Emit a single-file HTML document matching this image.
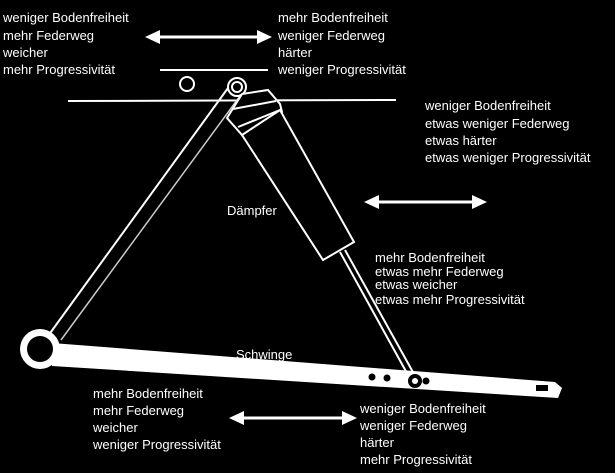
<!DOCTYPE html><html><head><style>body{margin:0;background:#000}svg{display:block}text{font-family:"Liberation Sans",sans-serif;font-size:13px;fill:#fff}</style></head><body>
<svg width="615" height="473" viewBox="0 0 615 473">
<rect x="0" y="0" width="615" height="473" fill="#000"/>
<g stroke="#fff" fill="none" stroke-width="2">
<line x1="160" y1="70" x2="268" y2="70"/>
<line x1="68" y1="101" x2="396" y2="100"/>
<circle cx="187" cy="84" r="7"/>
<line x1="48" y1="336" x2="228" y2="88"/>
<line x1="61" y1="340" x2="240" y2="96" stroke-width="1.5" stroke="#ccc"/>
<circle cx="237" cy="87" r="9" fill="#000"/>
<circle cx="237" cy="87" r="5"/>
<polygon points="227,118 242,94 268,90 280,104 282,112 242,135" fill="#000"/>
<line x1="233" y1="109" x2="276" y2="101"/>
<line x1="238" y1="127" x2="280" y2="110"/>
<polygon points="242,135 323,260 354,242 280,110" fill="#000"/>
<line x1="340" y1="252" x2="408" y2="375"/>
<line x1="345" y1="250" x2="414" y2="374"/>
</g>
<polygon points="52,343 555,382 562,388 558,398 52,366" fill="#fff"/>
<circle cx="40" cy="349" r="20" fill="#fff"/>
<circle cx="40" cy="349" r="13" fill="#000"/>
<g fill="#000"><circle cx="372" cy="377" r="3.5"/><circle cx="387" cy="378" r="3.5"/><circle cx="426" cy="381" r="3.5"/><rect x="536" y="385" width="12" height="6"/></g>
<circle cx="415" cy="381" r="7" fill="#000"/><circle cx="415" cy="381" r="3" fill="#fff"/>
<g fill="#fff" stroke="#fff" stroke-width="3">
<line x1="155" y1="37" x2="260" y2="37"/><polygon points="145,37 160,30 160,44" stroke="none"/><polygon points="272,37 257,30 257,44" stroke="none"/>
<line x1="375" y1="202" x2="475" y2="202"/><polygon points="364,202 379,195 379,209" stroke="none"/><polygon points="487,202 472,195 472,209" stroke="none"/>
<line x1="240" y1="418" x2="345" y2="418"/><polygon points="229,418 244,411 244,425" stroke="none"/><polygon points="357,418 342,411 342,425" stroke="none"/>
</g>
<text x="3" y="22">weniger Bodenfreiheit</text><text x="3" y="40">mehr Federweg</text><text x="3" y="57">weicher</text><text x="3" y="74">mehr Progressivität</text>
<text x="278" y="22">mehr Bodenfreiheit</text><text x="278" y="40">weniger Federweg</text><text x="278" y="57">härter</text><text x="278" y="74">weniger Progressivität</text>
<text x="425" y="110">weniger Bodenfreiheit</text><text x="425" y="128">etwas weniger Federweg</text><text x="425" y="145">etwas härter</text><text x="425" y="162">etwas weniger Progressivität</text>
<text x="227" y="215">Dämpfer</text>
<text x="375" y="262">mehr Bodenfreiheit</text><text x="375" y="276">etwas mehr Federweg</text><text x="375" y="289">etwas weicher</text><text x="375" y="304">etwas mehr Progressivität</text>
<text x="236" y="359">Schwinge</text>
<text x="93" y="398">mehr Bodenfreiheit</text><text x="93" y="415">mehr Federweg</text><text x="93" y="432">weicher</text><text x="93" y="449">weniger Progressivität</text>
<text x="360" y="413">weniger Bodenfreiheit</text><text x="360" y="430">weniger Federweg</text><text x="360" y="447">härter</text><text x="360" y="464">mehr Progressivität</text>
</svg></body></html>
